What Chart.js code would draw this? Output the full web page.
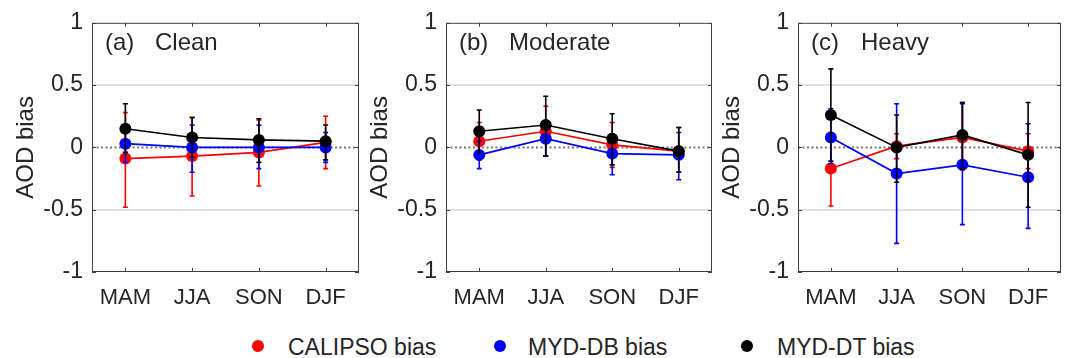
<!DOCTYPE html>
<html>
<head>
<meta charset="utf-8">
<script src="https://cdn.jsdelivr.net/npm/chart.js@4.4.1/dist/chart.umd.min.js"></script>
<style>
  html, body { margin: 0; padding: 0; background: #fff; }
  #wrap { position: relative; width: 1067px; height: 358px; overflow: hidden; font-family: "Liberation Sans", Arial, sans-serif; }
  canvas { position: absolute; top: 0; }
  .legend-item { position: absolute; top: 333px; height: 28px; line-height: 28px; font-size: 23px; color: #262626; white-space: nowrap; }
  .legend-dot { position: absolute; top: 340px; width: 12px; height: 12px; border-radius: 50%; }
</style>
</head>
<body>
<div id="wrap">
  <canvas id="panelA" width="353" height="320" style="left:12px"></canvas>
  <canvas id="panelB" width="352" height="320" style="left:366px"></canvas>
  <canvas id="panelC" width="349" height="320" style="left:718px"></canvas>
  <div id="legend"></div>
</div>
<script>
// seasons on the x axis
const seasons = ["MAM", "JJA", "SON", "DJF"];
const yTicks = [-1, -0.5, 0, 0.5, 1];

const seriesNames = ["CALIPSO bias", "MYD-DB bias", "MYD-DT bias"];
const seriesColors = ["#ff0000", "#0000ff", "#000000"];

// (a) Clean
const cleanCalipso = [-0.09, -0.07, -0.04, 0.04];
const cleanCalipsoRange = [[-0.48, 0.28], [-0.39, 0.24], [-0.31, 0.22], [-0.17, 0.25]];
const cleanDB = [0.03, 0.0, 0.0, 0.0];
const cleanDBRange = [[-0.12, 0.17], [-0.2, 0.18], [-0.17, 0.18], [-0.12, 0.12]];
const cleanDT = [0.15, 0.08, 0.06, 0.05];
const cleanDTRange = [[-0.04, 0.35], [-0.08, 0.24], [-0.12, 0.23], [-0.1, 0.18]];

// (b) Moderate
const moderateCalipso = [0.05, 0.13, 0.02, -0.03];
const moderateCalipsoRange = [[-0.1, 0.2], [-0.07, 0.33], [-0.16, 0.2], [-0.2, 0.16]];
const moderateDB = [-0.06, 0.07, -0.05, -0.06];
const moderateDBRange = [[-0.17, 0.05], [-0.07, 0.2], [-0.22, 0.11], [-0.26, 0.12]];
const moderateDT = [0.13, 0.18, 0.07, -0.03];
const moderateDTRange = [[-0.04, 0.3], [-0.07, 0.41], [-0.14, 0.27], [-0.2, 0.16]];

// (c) Heavy
const heavyCalipso = [-0.17, 0.01, 0.08, -0.03];
const heavyCalipsoRange = [[-0.47, 0.12], [-0.09, 0.11], [-0.18, 0.36], [-0.17, 0.11]];
const heavyDB = [0.08, -0.21, -0.14, -0.24];
const heavyDBRange = [[-0.13, 0.31], [-0.77, 0.35], [-0.62, 0.35], [-0.65, 0.19]];
const heavyDT = [0.26, 0.0, 0.1, -0.06];
const heavyDTRange = [[-0.11, 0.63], [-0.28, 0.26], [-0.17, 0.36], [-0.48, 0.36]];

const textColor = "#262626";
const fontFamily = "'Liberation Sans', Arial, sans-serif";

// error bars drawn under each dataset's own line and markers
const errorBars = {
  id: "errorBars",
  beforeDatasetDraw(chart, args) {
    const ds = chart.data.datasets[args.index];
    if (!ds.errorRange) return;
    const y = chart.scales.y;
    const ctx = chart.ctx;
    ctx.save();
    ctx.strokeStyle = ds.borderColor;
    ctx.lineWidth = 1.6;
    args.meta.data.forEach((pt, i) => {
      const lo = y.getPixelForValue(ds.errorRange[i][0]);
      const hi = y.getPixelForValue(ds.errorRange[i][1]);
      ctx.beginPath();
      ctx.moveTo(pt.x, lo);
      ctx.lineTo(pt.x, hi);
      ctx.moveTo(pt.x - 2.5, lo);
      ctx.lineTo(pt.x + 2.5, lo);
      ctx.moveTo(pt.x - 2.5, hi);
      ctx.lineTo(pt.x + 2.5, hi);
      ctx.stroke();
    });
    ctx.restore();
  }
};

// box, zero line, inner ticks and panel label
const frame = {
  id: "frame",
  beforeDatasetsDraw(chart, args, opts) {
    const { ctx, chartArea: a, scales } = chart;
    ctx.save();
    const y0 = scales.y.getPixelForValue(0);
    ctx.strokeStyle = "#777777";
    ctx.lineWidth = 2;
    ctx.setLineDash([2, 2.5]);
    ctx.beginPath();
    ctx.moveTo(a.left, y0);
    ctx.lineTo(a.right, y0);
    ctx.stroke();
    ctx.setLineDash([]);

    ctx.strokeStyle = "#404040";
    ctx.lineWidth = 1;
    ctx.strokeRect(a.left + 0.5, a.top + 0.5, a.right - a.left - 1, a.bottom - a.top - 1);

    ctx.beginPath();
    scales.x.ticks.forEach((t, i) => {
      const x = Math.round(scales.x.getPixelForTick(i)) + 0.5;
      ctx.moveTo(x, a.bottom);
      ctx.lineTo(x, a.bottom - 4);
      ctx.moveTo(x, a.top);
      ctx.lineTo(x, a.top + 4);
    });
    yTicks.forEach(v => {
      const yy = Math.round(scales.y.getPixelForValue(v)) + 0.5;
      ctx.moveTo(a.left, yy);
      ctx.lineTo(a.left + 4, yy);
      ctx.moveTo(a.right, yy);
      ctx.lineTo(a.right - 4, yy);
    });
    ctx.stroke();

    ctx.fillStyle = textColor;
    ctx.font = "24px " + fontFamily;
    ctx.textBaseline = "middle";
    ctx.fillText(opts.tag, a.left + 13, a.top + 21);
    ctx.fillText(opts.name, a.left + 63, a.top + 21);
    ctx.restore();
  }
};

function makeDataset(i, values, range) {
  return {
    label: seriesNames[i],
    data: values,
    errorRange: range,
    borderColor: seriesColors[i],
    backgroundColor: seriesColors[i],
    borderWidth: 1.6,
    pointRadius: 6,
    pointBorderWidth: 0,
    pointBackgroundColor: seriesColors[i],
    order: 3 - i
  };
}

function makePanel(id, tag, name, rightPad, sets) {
  return new Chart(document.getElementById(id), {
    type: "line",
    data: {
      labels: seasons,
      datasets: sets.map((s, i) => makeDataset(i, s[0], s[1]))
    },
    options: {
      responsive: false,
      animation: false,
      layout: { padding: { top: 22, right: rightPad, left: 0, bottom: 0 } },
      plugins: {
        legend: { display: false },
        tooltip: { enabled: false },
        frame: { tag: tag, name: name }
      },
      scales: {
        x: {
          offset: true,
          grid: { display: false, drawTicks: false },
          border: { display: false },
          ticks: { color: textColor, font: { family: fontFamily, size: 22 }, padding: 13 },
          afterFit(scale) { scale.height = 48; }
        },
        y: {
          min: -1,
          max: 1,
          afterBuildTicks(scale) { scale.ticks = yTicks.map(v => ({ value: v })); },
          grid: {
            drawTicks: false,
            lineWidth: 2,
            color: c => (c.tick && Math.abs(c.tick.value) === 0.5 ? "#e0e0e0" : "rgba(0,0,0,0)")
          },
          border: { display: false },
          ticks: {
            color: textColor,
            font: { family: fontFamily, size: 23 },
            padding: 9,
            callback: v => String(v)
          },
          title: {
            display: true,
            text: "AOD bias",
            color: textColor,
            font: { family: fontFamily, size: 24 },
            padding: 0
          },
          afterFit(scale) { scale.width = 80; }
        }
      }
    },
    plugins: [errorBars, frame]
  });
}

makePanel("panelA", "(a)", "Clean", 5, [
  [cleanCalipso, cleanCalipsoRange], [cleanDB, cleanDBRange], [cleanDT, cleanDTRange]
]);
makePanel("panelB", "(b)", "Moderate", 6, [
  [moderateCalipso, moderateCalipsoRange], [moderateDB, moderateDBRange], [moderateDT, moderateDTRange]
]);
makePanel("panelC", "(c)", "Heavy", 1, [
  [heavyCalipso, heavyCalipsoRange], [heavyDB, heavyDBRange], [heavyDT, heavyDTRange]
]);

// shared legend under the panels
const legendDots = [258, 500, 747];
const legendText = [288, 528, 777];
const legend = document.getElementById("legend");
seriesNames.forEach((n, i) => {
  const dot = document.createElement("div");
  dot.className = "legend-dot";
  dot.style.left = (legendDots[i] - 6) + "px";
  dot.style.background = seriesColors[i];
  legend.appendChild(dot);
  const label = document.createElement("div");
  label.className = "legend-item";
  label.style.left = legendText[i] + "px";
  label.textContent = n;
  legend.appendChild(label);
});
</script>
</body>
</html>
